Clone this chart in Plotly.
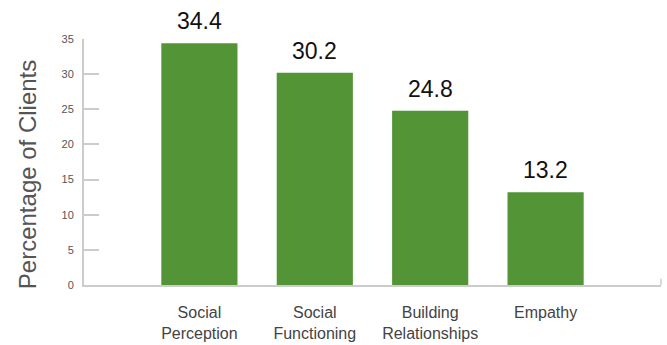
import plotly.graph_objects as go

categories = ["Social<br>Perception", "Social<br>Functioning", "Building<br>Relationships", "Empathy"]
values = [34.4, 30.2, 24.8, 13.2]
y_ticks = [0, 5, 10, 15, 20, 25, 30, 35]

BAR_COLOR = "#529436"
AXIS_COLOR = "#cccccc"
FONT = "Liberation Sans, Arial, sans-serif"

fig = go.Figure(
    go.Bar(
        x=list(range(len(categories))),
        y=values,
        marker=dict(color=BAR_COLOR, line=dict(width=0)),
        width=0.66,
        hoverinfo="skip",
    )
)

# value labels above each bar
for i, v in enumerate(values):
    fig.add_annotation(
        x=i, y=v, text=f"{v}", showarrow=False,
        yanchor="bottom", yshift=7,
        font=dict(family=FONT, size=23, color="#111111"),
    )

# y-axis title
fig.add_annotation(
    xref="paper", yref="paper", x=-0.099, y=0.45,
    xanchor="center", yanchor="middle",
    text="Percentage of Clients", textangle=-90, showarrow=False,
    font=dict(family=FONT, size=24, color="#555555"),
)

# small end tick at the right end of the x axis
fig.add_shape(
    type="line", xref="paper", yref="paper",
    x0=1, x1=1, y0=0, y1=0.025,
    line=dict(color=AXIS_COLOR, width=1.5),
)

fig.update_layout(
    width=667, height=345,
    margin=dict(l=84, r=6, t=39, b=60, autoexpand=False),
    paper_bgcolor="white", plot_bgcolor="white",
    showlegend=False,
    xaxis=dict(
        range=[-1, 4],
        tickmode="array",
        tickvals=list(range(len(categories))),
        ticktext=categories,
        showgrid=False, zeroline=False,
        showline=True, linecolor=AXIS_COLOR, linewidth=2,
        ticks="",
        ticklabelstandoff=12,
        automargin=False,
        tickfont=dict(family=FONT, size=16, color="#444444"),
    ),
    yaxis=dict(
        range=[0, 35],
        tickvals=y_ticks,
        showgrid=False, zeroline=False,
        showline=True, linecolor=AXIS_COLOR, linewidth=2,
        ticks="inside", ticklen=15, tickcolor=AXIS_COLOR, tickwidth=1.5,
        ticklabelstandoff=6,
        automargin=False,
        tickfont=dict(family=FONT, size=11, color="#555555"),
    ),
)

fig.write_html("out.html")
